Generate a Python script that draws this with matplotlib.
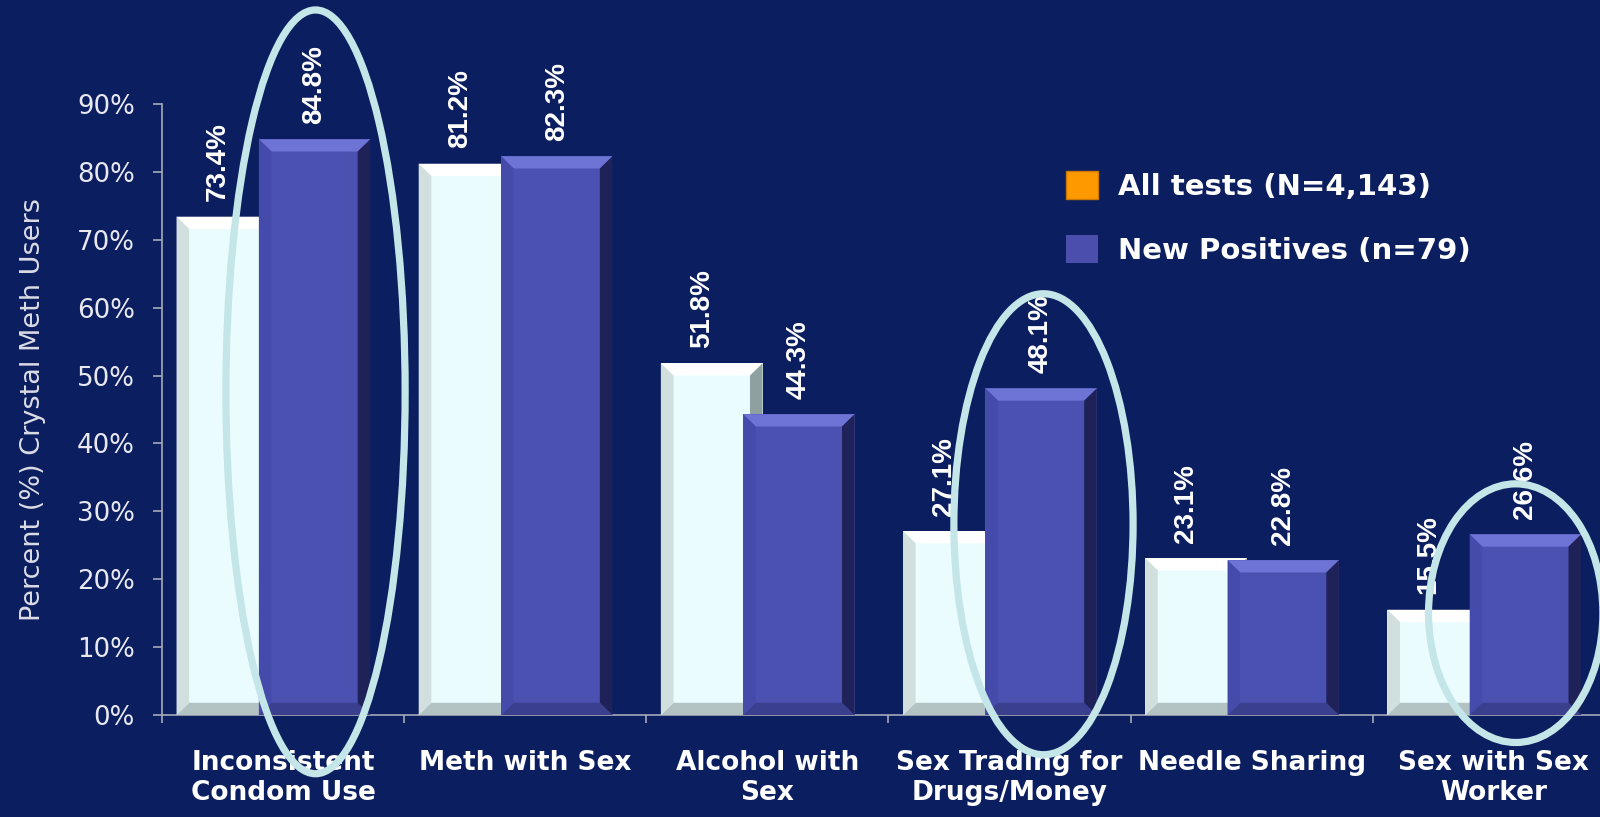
import matplotlib
matplotlib.use("Agg")
import matplotlib.pyplot as plt
import numpy as np
from matplotlib import font_manager
from matplotlib.patches import Polygon, Rectangle, Ellipse, Patch

categories = ["Inconsistent\nCondom Use", "Meth with Sex", "Alcohol with\nSex",
              "Sex Trading for\nDrugs/Money", "Needle Sharing", "Sex with Sex\nWorker"]
all_tests = [73.4, 81.2, 51.8, 27.1, 23.1, 15.5]
new_positives = [84.8, 82.3, 44.3, 48.1, 22.8, 26.6]
legend_labels = ["All tests (N=4,143)", "New Positives (n=79)"]
yticks = [0, 10, 20, 30, 40, 50, 60, 70, 80, 90]

BG = "#0b1e5f"
LIGHT = {"face": "#eafcfe", "top": "#ffffff", "left": "#d2dfdf", "right": "#8fa0a0", "bottom": "#b3c3c3"}
BLUE = {"face": "#4b51b0", "top": "#6e74d6", "left": "#454bab", "right": "#1f2258", "bottom": "#3a3f8e"}

# narrow face for the rotated value labels if the system has it
try:
    font_manager.findfont("Liberation Sans Narrow", fallback_to_default=False)
    val_font, val_size = "Liberation Sans Narrow", 24
except ValueError:
    val_font, val_size = "Liberation Sans", 20

fig = plt.figure(figsize=(16, 8.17), dpi=100, facecolor=BG)
ax = fig.add_axes([0.10125, 0.12485, 0.908125, 0.74786], facecolor=BG)

x = np.arange(len(categories))
bx, by = 0.052, 1.8  # bevel size in data units


def bevel_bar(x0, w, h, c, z):
    x1 = x0 + w
    ax.add_patch(Rectangle((x0, 0), w, h, facecolor=c["face"], edgecolor="none", zorder=z))
    facets = [
        ([(x0, h), (x1, h), (x1 - bx, h - by), (x0 + bx, h - by)], c["top"]),
        ([(x0, 0), (x1, 0), (x1 - bx, by), (x0 + bx, by)], c["bottom"]),
        ([(x0, 0), (x0, h), (x0 + bx, h - by), (x0 + bx, by)], c["left"]),
        ([(x1, 0), (x1, h), (x1 - bx, h - by), (x1 - bx, by)], c["right"]),
    ]
    for pts, col in facets:
        ax.add_patch(Polygon(pts, closed=True, facecolor=col, edgecolor="none", zorder=z))


w_light, w_blue = 0.42, 0.46
off_light, off_blue = -0.23, 0.13
for i in range(len(categories)):
    bevel_bar(x[i] + off_light - w_light / 2, w_light, all_tests[i], LIGHT, 3)
    bevel_bar(x[i] + off_blue - w_blue / 2, w_blue, new_positives[i], BLUE, 4)
    for off, v in ((-0.27, all_tests[i]), (off_blue, new_positives[i])):
        ax.annotate(f"{v:.1f}%", (x[i] + off, v), xytext=(0, 11), textcoords="offset points",
                    rotation=90, ha="center", va="bottom", color="white",
                    fontsize=val_size, fontweight="bold", family=val_font,
                    annotation_clip=False, zorder=6)

# highlight rings
for cx, cy, ew, eh in [(0.134, 47.6, 0.74, 112.5), (3.14, 28.1, 0.74, 67.9), (5.09, 15.0, 0.72, 38.1)]:
    ax.add_patch(Ellipse((cx, cy), ew, eh, fill=False, edgecolor="#c4e6e8", linewidth=5.2,
                         clip_on=False, zorder=10))

ax.set_xlim(-0.5, 5.5)
ax.set_ylim(0, 90)
ax.set_yticks(yticks)
ax.set_yticklabels([f"{t}%" for t in yticks])
ax.set_xticks(np.arange(-0.5, 6, 1))
ax.set_xticklabels([])
ax.set_xticks(x, minor=True)
ax.set_xticklabels(categories, minor=True, fontsize=19, fontweight="bold", color="white",
                   linespacing=1.2)
ax.tick_params(axis="x", which="minor", length=0, pad=25)
ax.tick_params(axis="x", which="major", length=6, width=1.2, color="#a8aabb", direction="out")
ax.tick_params(axis="y", length=6.5, width=1.2, color="#a8aabb", pad=13, labelsize=18.7,
               labelcolor="#e8e8ee")
for s in ("top", "right"):
    ax.spines[s].set_visible(False)
for s in ("left", "bottom"):
    ax.spines[s].set_color("#a8aabb")
    ax.spines[s].set_linewidth(1.2)

ax.set_ylabel("Percent (%) Crystal Meth Users", fontsize=19.5, color="#dcdce6", labelpad=22)

handles = [Patch(facecolor="#ff9900", edgecolor="#cc7700"), Patch(facecolor="#4b4ead", edgecolor="none")]
fig.legend(handles, legend_labels, loc="upper left", bbox_to_anchor=(1066 / 1600, 1 - 171 / 817),
           frameon=False, prop={"size": 21, "weight": "bold"}, labelcolor="white",
           handlelength=1.1, handleheight=1.1, handletextpad=0.7, labelspacing=1.18,
           borderpad=0, borderaxespad=0)

fig.savefig("out.png", dpi=100, facecolor=BG)
